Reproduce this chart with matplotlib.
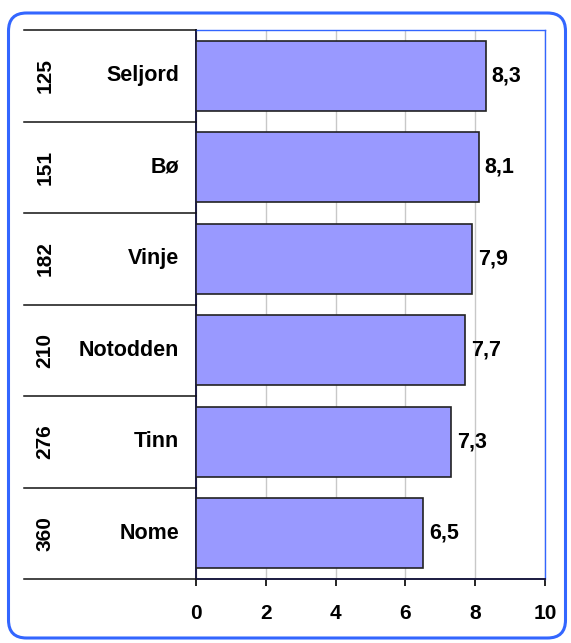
import numpy as np
import matplotlib.pyplot as plt
from matplotlib.patches import FancyBboxPatch
from matplotlib.lines import Line2D

names = ['Seljord', 'Bø', 'Vinje', 'Notodden', 'Tinn', 'Nome']
ranks = ['125', '151', '182', '210', '276', '360']
values = [8.3, 8.1, 7.9, 7.7, 7.3, 6.5]
labels = ['8,3', '8,1', '7,9', '7,7', '7,3', '6,5']
xticks = [0, 2, 4, 6, 8, 10]

plt.rcParams['font.family'] = ['Liberation Sans', 'DejaVu Sans']
plt.rcParams['font.weight'] = 'bold'

W, H = 571, 643
fig = plt.figure(figsize=(W / 100, H / 100), dpi=100)

# rounded outer frame (in inches)
frame = FancyBboxPatch((0.085, 0.05), 5.57, 6.25,
                       boxstyle='round,pad=0,rounding_size=0.18',
                       transform=fig.dpi_scale_trans, fill=False,
                       edgecolor='#3366FF', linewidth=2.2)
fig.patches.append(frame)

left, right, top, bottom = 196, 545, 30, 579
ax = fig.add_axes([left / W, 1 - bottom / H, (right - left) / W, (bottom - top) / H])

n = len(names)
y = np.arange(n)
ax.barh(y, values, height=0.76, color='#9999FF', edgecolor='#222222', linewidth=1.2, zorder=3)
for yi, v, lab in zip(y, values, labels):
    ax.text(v + 0.17, yi, lab, va='center', ha='left', fontsize=15.5, fontweight='bold')

ax.set_ylim(n - 0.5, -0.5)
ax.set_xlim(0, 10)
ax.set_xticks(xticks)
ax.set_xticklabels([str(t) for t in xticks], fontsize=15, fontweight='bold')
ax.tick_params(axis='x', direction='out', length=5, width=1.2, pad=13)
ax.set_yticks([])
ax.grid(axis='x', color='#C8C8C8', linewidth=1, zorder=0)

for s in ['top', 'right']:
    ax.spines[s].set_color('#3366FF')
    ax.spines[s].set_linewidth(1)
for s in ['left', 'bottom']:
    ax.spines[s].set_color('#1a1a40')
    ax.spines[s].set_linewidth(1.4)

# left table: separators, rank numbers and names
for i in range(n + 1):
    yy = 1 - (top + i * (bottom - top) / n) / H
    fig.add_artist(Line2D([24 / W, left / W], [yy, yy], color='#111111', linewidth=1.1,
                          transform=fig.transFigure))
for i in range(n):
    yc = 1 - (top + (i + 0.5) * (bottom - top) / n) / H
    fig.text(45 / W, yc, ranks[i], rotation=90, ha='center', va='center',
             fontsize=15, fontweight='bold')
    fig.text(179 / W, yc, names[i], ha='right', va='center',
             fontsize=15.5, fontweight='bold')

fig.savefig('out.png', dpi=100)
